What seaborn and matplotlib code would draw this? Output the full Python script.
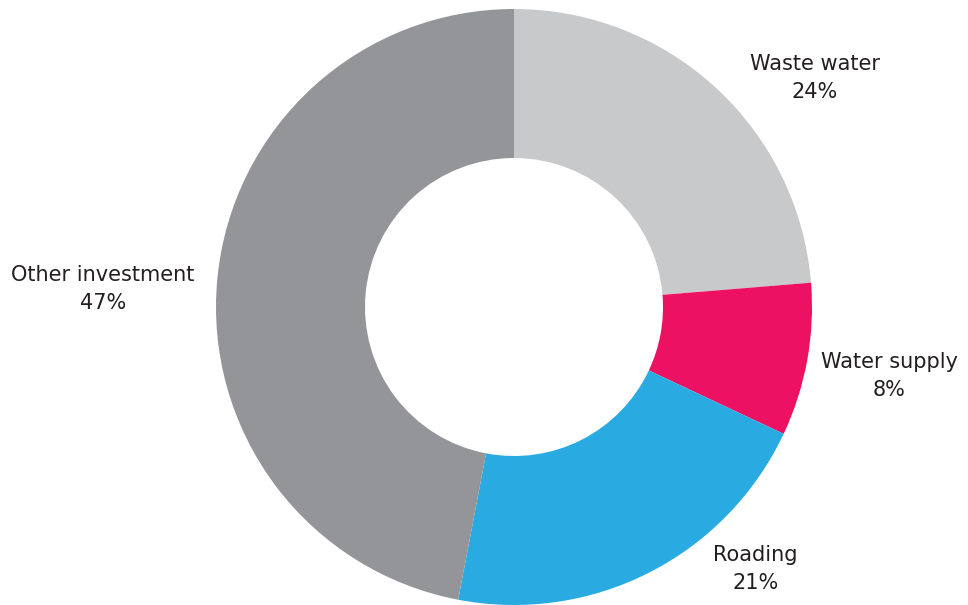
import matplotlib
matplotlib.use("Agg")
import matplotlib.pyplot as plt
import seaborn as sns

sns.set_theme(style="white")
plt.rcParams['font.family'] = ['DejaVu Sans']

# --- data ---
categories = ['Waste water', 'Water supply', 'Roading', 'Other investment']
shares = [23.7, 8.3, 21.0, 47.0]          # as drawn in the ring
share_labels = ['24%', '8%', '21%', '47%']  # as printed
colors = ['#c8c9cb', '#ed1164', '#29abe2', '#939598']

# label placement (data coords, pie radius = 1)
label_pos = [(1.01, 0.77), (1.26, -0.23), (0.81, -0.88), (-1.38, 0.06)]

fig = plt.figure(figsize=(9.68, 6.05), dpi=100)
ax = fig.add_axes([0, 0, 1, 1])

ax.pie(shares, colors=colors, startangle=90, counterclock=False,
       radius=1.0, wedgeprops=dict(width=0.5, linewidth=0))

for name, lab, (x, y) in zip(categories, share_labels, label_pos):
    ax.text(x, y, f"{name}\n{lab}", ha='center', va='center',
            fontsize=15, color='#231f20', linespacing=1.5)

# center of donut sits at pixel (514, 307), radius ~298px
ax.set_xlim(-514 / 298, (968 - 514) / 298)
ax.set_ylim(-(605 - 307) / 298, 307 / 298)
ax.set_aspect('equal')
ax.axis('off')

fig.savefig('out.png', dpi=100, facecolor='white')
